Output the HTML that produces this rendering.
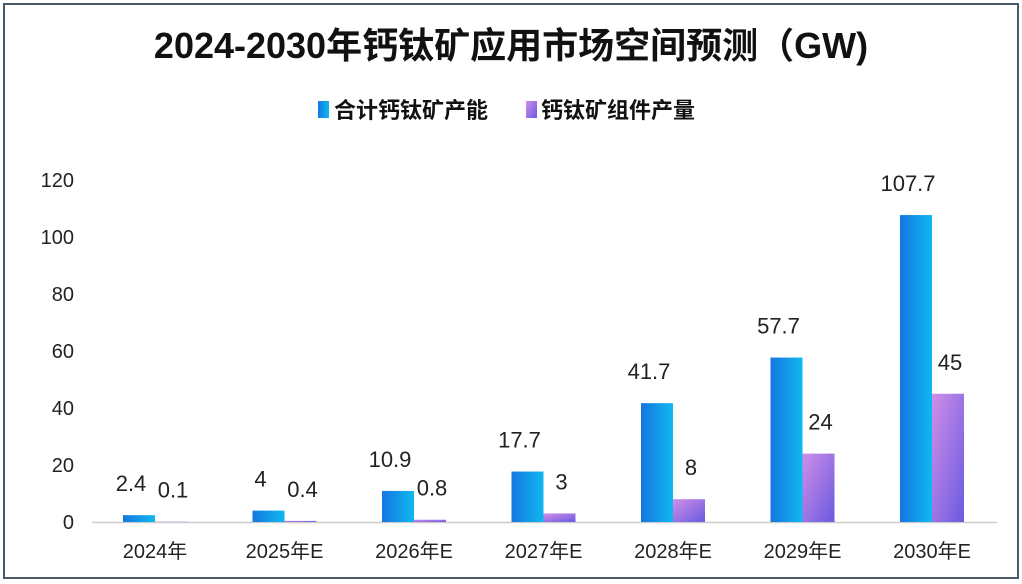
<!DOCTYPE html>
<html><head><meta charset="utf-8"><style>
body{margin:0;background:#fff;}
svg{display:block;font-family:"Liberation Sans","Noto Sans CJK SC",sans-serif;}
</style></head><body>
<svg id="c" width="1022" height="584">
<defs>
<linearGradient id="gb" x1="0" y1="0" x2="1" y2="0"><stop offset="0" stop-color="#1477e0"/><stop offset="1" stop-color="#10b8f0"/></linearGradient>
<linearGradient id="gp" x1="0" y1="0" x2="1" y2="1"><stop offset="0" stop-color="#d08fe8"/><stop offset="1" stop-color="#6a5ae0"/></linearGradient>
</defs>
<rect x="4" y="4" width="1014" height="574" fill="#fff" stroke="#4a5a6a" stroke-width="2"/>
<text x="511" y="58" text-anchor="middle" font-size="36" font-weight="bold" fill="#111">2024-2030年钙钛矿应用市场空间预测（GW)</text>
<g>
<rect x="318" y="101" width="11" height="17" fill="url(#gb)"/>
<text x="334" y="118" font-size="22" font-weight="bold" fill="#111">合计钙钛矿产能</text>
<rect x="526" y="101" width="11" height="17" fill="url(#gp)"/>
<text x="541" y="118" font-size="22" font-weight="bold" fill="#111">钙钛矿组件产量</text>
</g>
<g id="plot"></g>
</svg>
<script>
const categories=["2024年","2025年E","2026年E","2027年E","2028年E","2029年E","2030年E"];
const capacity=[2.4,4,10.9,17.7,41.7,57.7,107.7];
const capacityLabels=["2.4","4","10.9","17.7","41.7","57.7","107.7"];
const modules=[0.1,0.4,0.8,3,8,24,45];
const moduleLabels=["0.1","0.4","0.8","3","8","24","45"];
const ticks=[0,20,40,60,80,100,120];
const NS="http://www.w3.org/2000/svg";
const g=document.getElementById('plot');
const y=v=>522-v*2.85;
const x=i=>155+i*129.5;
function mk(t,a){const e=document.createElementNS(NS,t);for(const k in a)e.setAttribute(k,a[k]);g.appendChild(e);return e;}
ticks.forEach(t=>{const e=mk('text',{x:74,y:y(t)+7,'text-anchor':'end','font-size':20,fill:'#222'});e.textContent=t;

});
const ax=mk('line',{x1:92,x2:997,y1:522.5,y2:522.5,stroke:'#ccc','stroke-width':1.5});


categories.forEach((c,i)=>{
const cx=x(i);
const b=mk('rect',{x:cx-32,y:y(capacity[i]),width:32,height:capacity[i]*2.85,fill:'url(#gb)'});


const p=mk('rect',{x:cx,y:y(modules[i]),width:32,height:modules[i]*2.85,fill:'url(#gp)'});


const l1=mk('text',{x:cx-24,y:y(capacity[i])-24,'text-anchor':'middle','font-size':22,fill:'#222'});l1.textContent=capacityLabels[i];


const l2=mk('text',{x:cx+18,y:y(modules[i])-24,'text-anchor':'middle','font-size':22,fill:'#222'});l2.textContent=moduleLabels[i];


const xl=mk('text',{x:cx,y:558,'text-anchor':'middle','font-size':20,fill:'#222'});xl.textContent=c;


});
</script>
</body></html>
